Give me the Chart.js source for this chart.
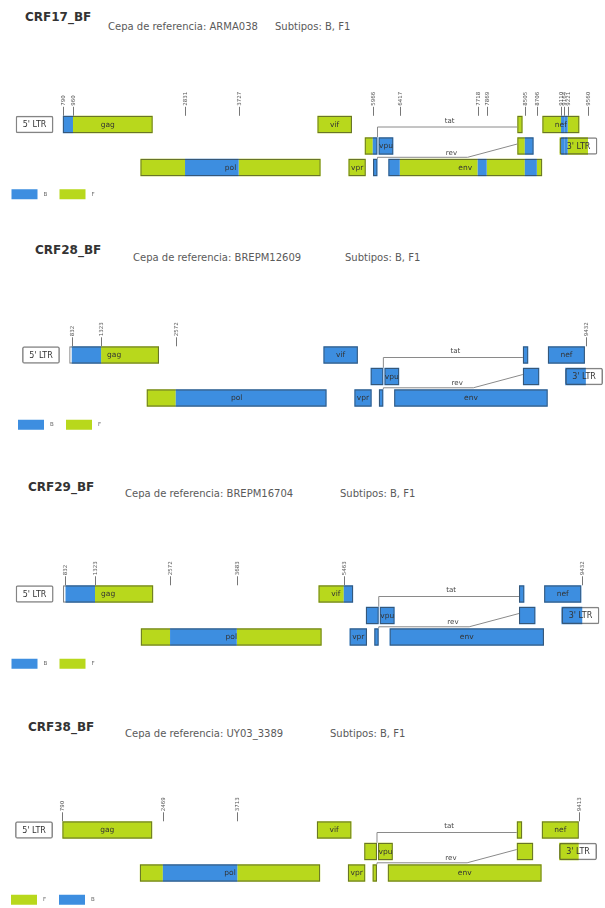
<!DOCTYPE html>
<html><head><meta charset="utf-8">
<script src="https://cdn.jsdelivr.net/npm/chart.js@4"></script>
<style>
html,body{margin:0;padding:0;background:#fff;}
body{width:605px;height:908px;position:relative;overflow:hidden;font-family:"DejaVu Sans",sans-serif;}
.t{position:absolute;font-weight:bold;font-size:12px;color:#333;line-height:14px;white-space:nowrap;}
.s{position:absolute;font-size:10px;color:#5a5a5a;line-height:12px;white-space:nowrap;}
canvas{position:absolute;left:0;}
</style></head><body>
<script>
// ---- data ----
const GENE_LABELS = ["5' LTR","gag","pol","vif","vpr","","","vpu","env","","","nef","3' LTR"];
const GENE_START  = [1,   790, 2085, 5041, 5559, 5831, 5970, 6062, 6225, 8379, 8379, 8797, 9086];
const GENE_END    = [634, 2292, 5096, 5619, 5850, 6045, 6045, 6310, 8795, 8469, 8653, 9417, 9719];
const GENE_ROW    = [0,   0,    2,    0,    2,    1,    2,    1,    2,    0,    1,    0,    1];

const CRF17_BREAKS   = [790, 960, 2831, 3727, 5966, 6417, 7718, 7869, 8505, 8706, 9110, 9164, 9221, 9560];
const CRF17_SUBTYPES = ['N','B','F','B','F','B','F','B','F','B','F','B','B','F','N'];
const CRF28_BREAKS   = [832, 1323, 2572, 9432];
const CRF28_SUBTYPES = ['N','B','F','B','N'];
const CRF29_BREAKS   = [832, 1323, 2572, 3683, 5463, 9432];
const CRF29_SUBTYPES = ['N','B','F','B','F','B','N'];
const CRF38_BREAKS   = [790, 2469, 3713, 9413];
const CRF38_SUBTYPES = ['N','F','B','F','N'];

const PANEL_NAMES    = ['CRF17_BF','CRF28_BF','CRF29_BF','CRF38_BF'];
const PANEL_REFS     = ['ARMA038','BREPM12609','BREPM16704','UY03_3389'];
const PANEL_SUBTIPOS = ['B, F1','B, F1','B, F1','B, F1'];
const PANEL_BREAKS   = [CRF17_BREAKS, CRF28_BREAKS, CRF29_BREAKS, CRF38_BREAKS];
const PANEL_SUBS     = [CRF17_SUBTYPES, CRF28_SUBTYPES, CRF29_SUBTYPES, CRF38_SUBTYPES];
const LEGEND_ORDER   = [['B','F'],['B','F'],['B','F'],['F','B']];
const GENOME_MAX = 9719;

// ---- styles / layout ----
const ROW_KEYS = ['r0','r1','r2'];
const SUB_COLORS = {B:'#3d8ee0', F:'#b8d81c', N:'#ffffff'};
const LAYOUT = [
  {left:15.5, width:582, top:113.75, tX:25, tY:10,  sX:108, sY:21,    pX:275},
  {left:22,   width:581, top:344.25, tX:35, tY:243, sX:133, sY:251.5, pX:345},
  {left:15.5, width:584, top:583.25, tX:28, tY:480, sX:125, sY:488,   pX:340},
  {left:15,   width:582, top:819.25, tX:28, tY:720, sX:125, sY:728,   pX:330}
];
const ROWS_H = 64.5, BAR_PCT = 0.81;

function addText(cls, x, y, txt){
  const d = document.createElement('div');
  d.className = cls; d.style.left = x+'px'; d.style.top = y+'px';
  d.textContent = txt; document.body.appendChild(d);
}

function segments(breaks, subs){
  const out = {B:[],F:[],N:[]};
  const edges = [-Infinity, ...breaks, Infinity];
  for (let g=0; g<GENE_START.length; g++){
    for (let i=0; i<subs.length; i++){
      const a = Math.max(GENE_START[g], edges[i]), b = Math.min(GENE_END[g], edges[i+1]);
      if (b > a) out[subs[i]].push({x:[a,b], y:ROW_KEYS[GENE_ROW[g]]});
    }
  }
  return out;
}

const decor = {
  id:'decor',
  afterDatasetsDraw(chart, args, opts){
    const ctx = chart.ctx, xs = chart.scales.x, ys = chart.scales.y;
    const px = v => xs.getPixelForValue(v);
    const rc = r => ys.getPixelForValue(r);
    const half = (chart.chartArea.height/3)*BAR_PCT/2;
    ctx.save();
    // tat / rev connectors
    ctx.strokeStyle = '#8a8a8a'; ctx.lineWidth = 1;
    const tatY = rc(0) + 2.5;
    ctx.beginPath();
    ctx.moveTo(px(6045), rc(1)-half); ctx.lineTo(px(6045), tatY); ctx.lineTo(px(8379), tatY);
    ctx.stroke();
    const revY = rc(2) - half - 1.5;
    ctx.beginPath();
    ctx.moveTo(px(6045), rc(2)-half); ctx.lineTo(px(6045), revY); ctx.lineTo(px(7550), revY);
    ctx.lineTo(px(8379), rc(1)-2);
    ctx.stroke();
    ctx.fillStyle = '#444'; ctx.font = '7px "DejaVu Sans"';
    ctx.textAlign = 'center'; ctx.textBaseline = 'middle';
    ctx.fillText('tat', px(7250), tatY - 6);
    ctx.fillText('rev', px(7280), revY - 4.5);
    // gene labels
    for (let g=0; g<GENE_LABELS.length; g++){
      if (!GENE_LABELS[g]) continue;
      const isLtr = GENE_LABELS[g].indexOf('LTR') >= 0;
      ctx.font = (isLtr ? '8px' : '7.5px') + ' "DejaVu Sans"';
      ctx.fillStyle = '#333';
      ctx.fillText(GENE_LABELS[g], (px(GENE_START[g])+px(GENE_END[g]))/2, rc(GENE_ROW[g])+0.5);
    }
    // breakpoint ticks
    const top0 = rc(0) - half;
    ctx.font = '5.5px "DejaVu Sans"'; ctx.fillStyle = '#555'; ctx.strokeStyle = '#777';
    for (const b of opts.breaks){
      const X = Math.round(px(b)) + 0.5;
      ctx.beginPath(); ctx.moveTo(X, top0-9); ctx.lineTo(X, top0); ctx.stroke();
      ctx.save(); ctx.translate(X, top0-10); ctx.rotate(-Math.PI/2);
      ctx.textAlign = 'left'; ctx.textBaseline = 'middle';
      ctx.fillText(String(b), 0, 0); ctx.restore();
    }
    // legend
    const ly = chart.chartArea.bottom + 16;
    let lx = chart.chartArea.left - 4;
    ctx.textAlign = 'left'; ctx.textBaseline = 'middle';
    for (const k of opts.legend){
      ctx.fillStyle = SUB_COLORS[k]; ctx.fillRect(lx, ly-5, 26, 10);
      ctx.fillStyle = '#666'; ctx.font = '5.5px "DejaVu Sans"';
      ctx.fillText(k, lx+32, ly);
      lx += 48;
    }
    ctx.restore();
  }
};

for (let p=0; p<4; p++){
  const L = LAYOUT[p];
  addText('t', L.tX, L.tY, PANEL_NAMES[p]);
  addText('s', L.sX, L.sY, 'Cepa de referencia: ' + PANEL_REFS[p]);
  addText('s', L.pX, L.sY, 'Subtipos: ' + PANEL_SUBTIPOS[p]);

  const cTop = Math.floor(L.top - 40);
  const padTop = L.top - cTop;
  const H = 140;
  const padBot = H - padTop - ROWS_H;
  const cv = document.createElement('canvas');
  cv.width = 605; cv.height = H;
  cv.style.top = cTop + 'px'; cv.style.width = '605px'; cv.style.height = H + 'px';
  document.body.appendChild(cv);

  const seg = segments(PANEL_BREAKS[p], PANEL_SUBS[p]);
  const outline = GENE_START.map((s,g) => ({x:[s, GENE_END[g]], y:ROW_KEYS[GENE_ROW[g]]}));
  new Chart(cv, {
    type:'bar',
    data:{datasets:[
      {label:'outline', data:outline, backgroundColor:'rgba(0,0,0,0)',
       borderColor:'rgba(50,50,50,0.6)',
       borderWidth:(c)=> (GENE_LABELS[c.dataIndex]||'').indexOf('LTR')>=0 ? 1.5 : 1.1,
       borderRadius:(c)=> (GENE_LABELS[c.dataIndex]||'').indexOf('LTR')>=0 ? 2 : 0,
       borderSkipped:false, inflateAmount:0, grouped:false},
      {label:'B', data:seg.B, backgroundColor:SUB_COLORS.B, borderWidth:0, grouped:false},
      {label:'F', data:seg.F, backgroundColor:SUB_COLORS.F, borderWidth:0, grouped:false},
      {label:'N', data:seg.N, backgroundColor:SUB_COLORS.N, borderWidth:0, grouped:false}
    ]},
    options:{
      indexAxis:'y', responsive:false, animation:false, devicePixelRatio:1, events:[],
      layout:{padding:{left:L.left, right:605-L.left-L.width, top:padTop, bottom:padBot}},
      scales:{
        x:{type:'linear', min:0, max:GENOME_MAX, display:false},
        y:{type:'category', labels:ROW_KEYS, display:false, offset:true}
      },
      datasets:{bar:{barPercentage:BAR_PCT, categoryPercentage:1}},
      plugins:{legend:{display:false}, tooltip:{enabled:false},
               decor:{breaks:PANEL_BREAKS[p], legend:LEGEND_ORDER[p]}}
    },
    plugins:[decor]
  });
}
</script>
</body></html>
